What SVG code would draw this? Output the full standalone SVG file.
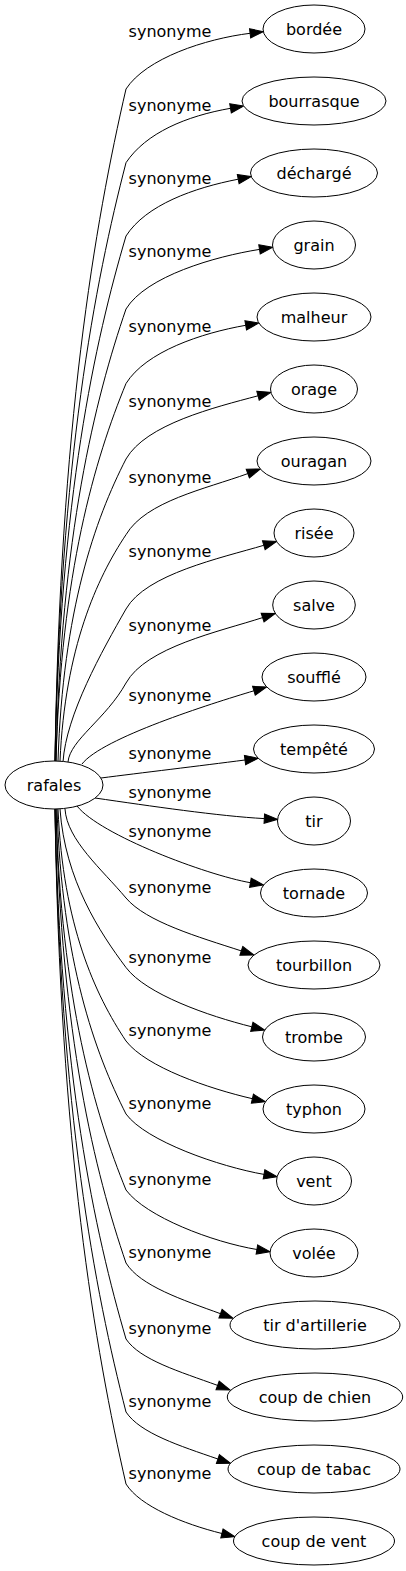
<svg xmlns="http://www.w3.org/2000/svg" width="406" height="1571" viewBox="0 0 406 1571">
<style>
.n ellipse{fill:#fff;stroke:#000;stroke-width:1}
.n text{font-family:"DejaVu Sans",sans-serif;font-size:16px;text-anchor:middle;fill:#000}
#edges path{fill:none;stroke:#000;stroke-width:1;marker-end:url(#ah)}
#edges text{font-family:"DejaVu Sans",sans-serif;font-size:16px;text-anchor:middle;fill:#000}
</style>
<defs>
<marker id="ah" markerUnits="userSpaceOnUse" viewBox="-1 -6 16 12" refX="0" refY="0" markerWidth="16" markerHeight="12" orient="auto">
<path d="M0,-4.67 L13.33,0 L0,4.67 Z" fill="#000" stroke="#000" stroke-width="1"/>
</marker>
</defs>
<rect width="406" height="1571" fill="#fff"/>
<g id="edges">
<path d="M55,761 C60,425 95,223 126,89 C146,58.3 205.4,38.8 250.1,33.3"/>
<path d="M55,761 C60,462 95,282.4 126,162.7 C146,132.8 186.2,116.1 230.5,108.3"/>
<path d="M55,761 C60,498.5 95,341 126,236 C146,204.8 194,187.8 238.2,179.2"/>
<path d="M56,761 C61,535 95,399.4 126,309 C146,276.2 215.1,256.4 259.5,249.4"/>
<path d="M56,761 C61,572 95,459 126,383.5 C146,351.5 201.4,333.1 245.7,325.3"/>
<path d="M58,761 C63,610 95,519.4 126,459 C146,424.2 214.5,407.4 258,395.8"/>
<path d="M60,761 C65,648 97,578 126,534.7 C146,501.1 205.5,489 247.8,473.6"/>
<path d="M63,762 C66,715 102,651 126,609 C146,574 220.7,558.1 263.8,545.3"/>
<path d="M68,762 C70,740 106,719 126,683 C146,647 219.8,631.5 262.6,617.6"/>
<path d="M82,764 C102,738 210.8,703.7 253.9,690.8"/>
<path d="M101,778 C140,773 200.4,765.8 245,760"/>
<path d="M95,798 C150,806 219.4,816.2 264.3,818.6"/>
<path d="M77,806 C100,835 206.1,874.9 250.4,882.7"/>
<path d="M65,809 C67,840 102,869.4 126,898 C146,921.8 198.5,937 241.3,950.9"/>
<path d="M60,809 C65,880 100,932.8 126,967.5 C146,994.2 208.1,1015.9 251.8,1026.8"/>
<path d="M58,809 C63,925 95,994.6 126,1041 C146,1067 208.6,1088.6 252.4,1098.7"/>
<path d="M57,809 C62,961.5 95,1053 126,1114 C146,1141.2 219.7,1166.6 264,1174.4"/>
<path d="M56,809 C61,999.5 95,1113.8 126,1190 C146,1216.8 212.5,1242.1 256.9,1249.5"/>
<path d="M56,809 C61,1036 95,1172.2 126,1263 C140,1285.8 182.9,1300 220.5,1313.7"/>
<path d="M55,809 C60,1074 95,1233 126,1339 C140,1359.9 180,1371.7 217.6,1385.4"/>
<path d="M55,809 C60,1110.5 95,1291.4 126,1412 C140,1433.2 180.1,1446 217.9,1459"/>
<path d="M55,809 C60,1146.5 95,1349 126,1484 C140,1506.3 183.1,1523.8 221.9,1533.5"/>
<text x="170" y="37">synonyme</text>
<text x="170" y="110.7">synonyme</text>
<text x="170" y="184">synonyme</text>
<text x="170" y="257">synonyme</text>
<text x="170" y="331.5">synonyme</text>
<text x="170" y="407">synonyme</text>
<text x="170" y="482.7">synonyme</text>
<text x="170" y="557">synonyme</text>
<text x="170" y="631">synonyme</text>
<text x="170" y="701">synonyme</text>
<text x="170" y="758.5">synonyme</text>
<text x="170" y="798">synonyme</text>
<text x="170" y="836.5">synonyme</text>
<text x="170" y="893">synonyme</text>
<text x="170" y="962.5">synonyme</text>
<text x="170" y="1036">synonyme</text>
<text x="170" y="1109">synonyme</text>
<text x="170" y="1185">synonyme</text>
<text x="170" y="1258">synonyme</text>
<text x="170" y="1334">synonyme</text>
<text x="170" y="1407">synonyme</text>
<text x="170" y="1479">synonyme</text>
</g>
<g id="rafales" class="n"><ellipse cx="54" cy="785" rx="49" ry="24"/><text x="54" y="790.5">rafales</text></g>
<g id="bordee" class="n"><ellipse cx="314" cy="29" rx="51" ry="24"/><text x="314" y="34.5">bordée</text></g>
<g id="bourrasque" class="n"><ellipse cx="314" cy="101" rx="72" ry="24"/><text x="314" y="106.5">bourrasque</text></g>
<g id="decharge" class="n"><ellipse cx="314" cy="173" rx="63.5" ry="24"/><text x="314" y="178.5">déchargé</text></g>
<g id="grain" class="n"><ellipse cx="314" cy="245" rx="41.5" ry="24"/><text x="314" y="250.5">grain</text></g>
<g id="malheur" class="n"><ellipse cx="314" cy="317" rx="57" ry="24"/><text x="314" y="322.5">malheur</text></g>
<g id="orage" class="n"><ellipse cx="314" cy="389" rx="43.5" ry="24"/><text x="314" y="394.5">orage</text></g>
<g id="ouragan" class="n"><ellipse cx="314" cy="461" rx="57" ry="24"/><text x="314" y="466.5">ouragan</text></g>
<g id="risee" class="n"><ellipse cx="314" cy="533" rx="40" ry="24"/><text x="314" y="538.5">risée</text></g>
<g id="salve" class="n"><ellipse cx="314" cy="605" rx="41.3" ry="24"/><text x="314" y="610.5">salve</text></g>
<g id="souffle" class="n"><ellipse cx="314" cy="677" rx="52" ry="24"/><text x="314" y="682.5">soufflé</text></g>
<g id="tempete" class="n"><ellipse cx="314" cy="749" rx="60.5" ry="24"/><text x="314" y="754.5">tempêté</text></g>
<g id="tir" class="n"><ellipse cx="314" cy="821" rx="36.5" ry="24"/><text x="314" y="826.5">tir</text></g>
<g id="tornade" class="n"><ellipse cx="314" cy="893" rx="53.5" ry="24"/><text x="314" y="898.5">tornade</text></g>
<g id="tourbillon" class="n"><ellipse cx="314" cy="965" rx="66" ry="24"/><text x="314" y="970.5">tourbillon</text></g>
<g id="trombe" class="n"><ellipse cx="314" cy="1037" rx="51.5" ry="24"/><text x="314" y="1042.5">trombe</text></g>
<g id="typhon" class="n"><ellipse cx="314" cy="1109" rx="51" ry="24"/><text x="314" y="1114.5">typhon</text></g>
<g id="vent" class="n"><ellipse cx="314" cy="1181" rx="37.5" ry="24"/><text x="314" y="1186.5">vent</text></g>
<g id="volee" class="n"><ellipse cx="314" cy="1253" rx="44" ry="24"/><text x="314" y="1258.5">volée</text></g>
<g id="tir-artillerie" class="n"><ellipse cx="315" cy="1325" rx="85" ry="24"/><text x="315" y="1330.5">tir d'artillerie</text></g>
<g id="coup-de-chien" class="n"><ellipse cx="315" cy="1397" rx="87.7" ry="24"/><text x="315" y="1402.5">coup de chien</text></g>
<g id="coup-de-tabac" class="n"><ellipse cx="314" cy="1469" rx="86" ry="24"/><text x="314" y="1474.5">coup de tabac</text></g>
<g id="coup-de-vent" class="n"><ellipse cx="314" cy="1541" rx="80.5" ry="24"/><text x="314" y="1546.5">coup de vent</text></g>
</svg>
